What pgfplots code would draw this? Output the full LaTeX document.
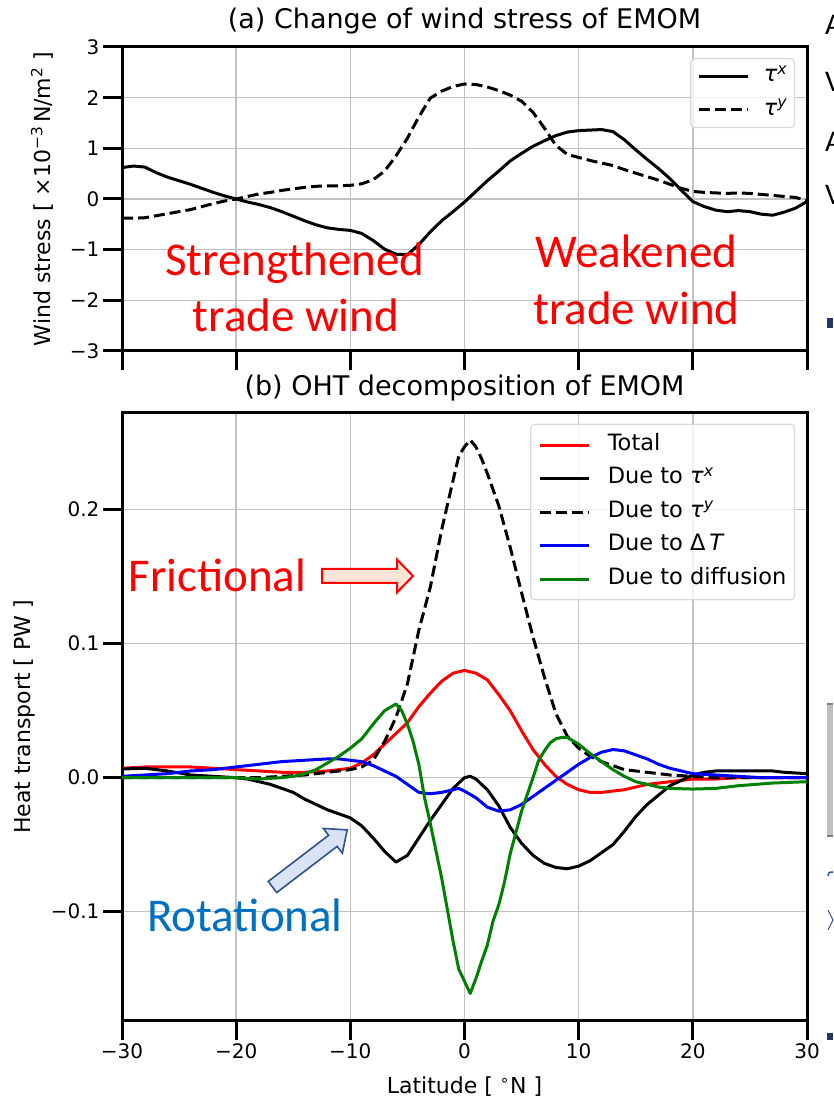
\documentclass[border=0pt]{standalone}
\usepackage{fontspec}
\setmainfont{DejaVu Sans}
\newfontfamily\calibri{Carlito}
\usepackage{pgfplots}
\usepackage{pgfplotstable}
\pgfplotsset{compat=1.18}
\definecolor{mplgreen}{RGB}{0,128,0}
\definecolor{rotblue}{HTML}{0070C0}
\definecolor{arrblue}{HTML}{2F528F}
\definecolor{arrbluefill}{HTML}{DAE3F3}
\definecolor{arrredfill}{HTML}{FBE5D6}
\definecolor{navy}{HTML}{1F3864}

% ---------- panel (a) ----------
\pgfplotstableread{
x y
-30 0.62
-29 0.65
-28 0.63
-27 0.52
-26 0.43
-25 0.36
-24 0.29
-23 0.21
-22 0.13
-21 0.06
-20 0.00
-19 -0.06
-18 -0.11
-17 -0.17
-16 -0.25
-15 -0.34
-14 -0.43
-13 -0.51
-12 -0.57
-11 -0.60
-10 -0.62
-9 -0.68
-8 -0.82
-7 -0.99
-6 -1.09
-5 -1.10
-4 -0.90
-3 -0.65
-2 -0.43
-1 -0.25
0 -0.06
1 0.15
2 0.36
3 0.55
4 0.75
5 0.90
6 1.04
7 1.15
8 1.25
9 1.32
10 1.35
11 1.36
12 1.37
13 1.33
14 1.17
15 0.97
16 0.78
17 0.60
18 0.40
19 0.17
20 -0.05
21 -0.15
22 -0.22
23 -0.25
24 -0.23
25 -0.25
26 -0.30
27 -0.32
28 -0.26
29 -0.18
30 -0.05
}\tauxa

\pgfplotstableread{
x y
-30 -0.38
-29 -0.38
-28 -0.37
-27 -0.33
-26 -0.29
-25 -0.25
-24 -0.21
-23 -0.15
-22 -0.09
-21 -0.04
-20 0.00
-19 0.05
-18 0.10
-17 0.13
-16 0.17
-15 0.20
-14 0.23
-13 0.25
-12 0.26
-11 0.26
-10 0.27
-9 0.30
-8 0.38
-7 0.55
-6 0.85
-5 1.20
-4 1.62
-3 1.99
-2 2.13
-1 2.22
0 2.27
1 2.26
2 2.21
3 2.14
4 2.05
5 1.93
6 1.71
7 1.40
8 1.06
9 0.88
10 0.82
11 0.76
12 0.71
13 0.66
14 0.58
15 0.51
16 0.44
17 0.37
18 0.29
19 0.21
20 0.15
21 0.13
22 0.12
23 0.11
24 0.12
25 0.11
26 0.09
27 0.07
28 0.05
29 0.03
30 -0.03
}\tauya

% ---------- panel (b) ----------
\pgfplotstableread{
x y
-30 0.007
-28 0.008
-26 0.008
-24 0.008
-22 0.007
-20 0.006
-18 0.005
-16 0.004
-14 0.004
-12 0.005
-10 0.007
-9 0.011
-8 0.017
-7 0.025
-6 0.033
-5 0.041
-4 0.053
-3 0.063
-2 0.072
-1 0.078
0 0.080
1 0.078
2 0.073
3 0.062
4 0.050
5 0.035
6 0.021
7 0.010
8 0.001
9 -0.005
10 -0.009
11 -0.011
12 -0.011
13 -0.010
14 -0.009
15 -0.007
16 -0.005
17 -0.004
18 -0.003
19 -0.002
20 -0.001
22 -0.001
24 0.000
26 0.000
28 0.000
30 0.000
}\total

\pgfplotstableread{
x y
-30 0.0065
-28 0.007
-26 0.005
-24 0.002
-22 0.001
-20 0.000
-19 -0.001
-18 -0.003
-17 -0.005
-16 -0.008
-15 -0.011
-14 -0.016
-13 -0.020
-12 -0.024
-11 -0.027
-10 -0.030
-9 -0.036
-8 -0.045
-7 -0.055
-6 -0.063
-5 -0.058
-4 -0.045
-3 -0.032
-2 -0.020
-1 -0.008
0 0.000
0.5 0.001
1 -0.001
2 -0.009
3 -0.021
4 -0.037
5 -0.049
6 -0.058
7 -0.064
8 -0.067
9 -0.068
10 -0.066
11 -0.062
12 -0.056
13 -0.050
14 -0.040
15 -0.029
16 -0.020
17 -0.013
18 -0.006
19 -0.002
20 0.002
21 0.004
22 0.005
24 0.005
26 0.005
27 0.005
28 0.004
30 0.003
}\tauxb

\pgfplotstableread{
x y
-30 0.000
-25 0.000
-20 0.000
-18 0.000
-16 0.001
-14 0.002
-12 0.004
-10 0.006
-9 0.008
-8 0.013
-7 0.027
-6 0.045
-5 0.070
-4 0.110
-3 0.142
-2 0.185
-1 0.222
-0.5 0.240
0 0.247
0.5 0.252
1 0.247
1.5 0.238
2 0.227
3 0.203
4 0.172
5 0.138
6 0.105
7 0.075
8 0.048
9 0.031
10 0.022
11 0.016
12 0.012
13 0.009
14 0.006
15 0.005
16 0.004
17 0.003
18 0.002
20 0.001
22 0.000
30 0.000
}\tauyb

\pgfplotstableread{
x y
-30 0.001
-28 0.002
-26 0.003
-24 0.005
-22 0.006
-20 0.008
-18 0.010
-16 0.012
-14 0.013
-12 0.014
-11 0.014
-10 0.013
-9 0.012
-8 0.009
-7 0.005
-6 0.001
-5 -0.005
-4 -0.011
-3 -0.012
-2 -0.011
-1 -0.009
-0.5 -0.008
0 -0.010
1 -0.015
2 -0.022
3 -0.025
4 -0.024
5 -0.020
6 -0.014
7 -0.008
8 -0.002
9 0.004
10 0.010
11 0.015
12 0.019
13 0.021
14 0.020
15 0.017
16 0.014
17 0.010
18 0.007
19 0.005
20 0.003
22 0.002
24 0.001
26 0.000
30 0.000
}\deltat

\pgfplotstableread{
x y
-30 0.000
-25 0.000
-20 0.000
-18 -0.001
-16 0.000
-15 0.001
-14 0.003
-13 0.006
-12 0.011
-11 0.016
-10 0.022
-9 0.029
-8 0.040
-7 0.050
-6 0.055
-5.5 0.050
-5 0.040
-4.5 0.027
-4 0.010
-3.5 -0.015
-3 -0.034
-2 -0.075
-1 -0.122
-0.5 -0.143
0.5 -0.161
1 -0.150
1.5 -0.137
2 -0.125
2.5 -0.107
3 -0.095
3.5 -0.078
4 -0.057
5 -0.025
6 0.000
6.5 0.013
7 0.020
7.5 0.026
8 0.029
8.5 0.030
9 0.030
10 0.025
11 0.018
12 0.012
13 0.006
14 0.001
15 -0.003
16 -0.005
17 -0.007
18 -0.008
20 -0.0085
22 -0.008
24 -0.006
27 -0.004
30 -0.003
}\diffu

\pgfplotsset{
  common/.style={
    scale only axis, width=685pt,
    xmin=-30, xmax=30, xtick={-30,-20,-10,0,10,20,30},
    grid=major, grid style={line width=1.4pt, color=black!24},
    axis line style={line width=3pt},
    tick align=outside, major tick length=19pt,
    tick style={line width=3pt, black},
    tick pos=left,
    ticklabel style={font=\fontsize{20}{24}\selectfont},
    label style={font=\fontsize{22}{26}\selectfont},
    title style={font=\fontsize{27}{31}\selectfont, at={(0.5,1)}, anchor=base},
    every axis plot/.append style={line width=3pt, line join=round},
    legend cell align=left,
    legend image code/.code={\draw[##1] (0pt,0pt) -- (49pt,0pt);},
    legend style={font=\fontsize{22.5}{26}\selectfont, draw=black!15, line width=1.2pt,
      rounded corners=4pt, fill=white, fill opacity=0.8, text opacity=1,
      at={(1,1)}, anchor=north east, xshift=-12pt, yshift=-11pt,
      inner xsep=8pt, inner ysep=10pt, column sep=17pt, row sep=12pt,
      nodes={inner sep=0pt, text height=16pt, text depth=5.5pt}},
  }
}

\begin{document}
\begin{tikzpicture}
\useasboundingbox (0pt,0pt) rectangle (833pt,1110pt);

% ---- panel (a)
\begin{axis}[common,
  at={(122pt,759pt)}, anchor=south west, height=304pt,
  ymin=-3, ymax=3, ytick={-3,-2,-1,0,1,2,3},
  yticklabels={−3,−2,−1,0,1,2,3}, xticklabels={{},{},{},{},{},{},{}},
  title={(a) Change of wind stress of EMOM}, title style={yshift=12pt},
  ylabel={Wind stress [ ×10\textsuperscript{−3}\,N/m\textsuperscript{2} ]},
  ylabel style={at={(axis description cs:-0.1051,0.5)}, anchor=base},
  legend style={inner ysep=7pt, inner xsep=7pt, column sep=14pt},
]
\addplot[black] table[x=x,y=y] {\tauxa};
\addlegendentry{\textit{τ}\textsuperscript{\textit{x}}}
\addplot[black, dash pattern=on 11pt off 5pt] table[x=x,y=y] {\tauya};
\addlegendentry{\textit{τ}\textsuperscript{\textit{y}}}
\end{axis}

% ---- panel (b)
\begin{axis}[common,
  at={(122pt,89pt)}, anchor=south west, height=608.3pt,
  ymin=-0.1816, ymax=0.2724, ytick={-0.1,0,0.1,0.2},
  yticklabels={−0.1,0.0,0.1,0.2},
  xticklabels={−30,−20,−10,0,10,20,30},
  title={(b) OHT decomposition of EMOM}, title style={yshift=10.7pt},
  xlabel={Latitude [ \textsuperscript{∘}N ]},
  xlabel style={at={(axis description cs:0.5,-0.1184)}, anchor=base},
  ylabel={Heat transport [ PW ]},
  ylabel style={at={(axis description cs:-0.1343,0.5)}, anchor=base},
]
\addplot[red] table[x=x,y=y] {\total};
\addlegendentry{Total}
\addplot[black] table[x=x,y=y] {\tauxb};
\addlegendentry{Due to \textit{τ}\textsuperscript{\textit{x}}}
\addplot[black, dash pattern=on 11pt off 5pt] table[x=x,y=y] {\tauyb};
\addlegendentry{Due to \textit{τ}\textsuperscript{\textit{y}}}
\addplot[blue] table[x=x,y=y] {\deltat};
\addlegendentry{Due to Δ\,\textit{T}}
\addplot[mplgreen] table[x=x,y=y] {\diffu};
\addlegendentry{Due to diffusion}
\end{axis}

% ---- annotations
\begin{scope}[every node/.style={inner sep=0pt, font=\calibri\fontsize{47}{56}\selectfont}]
\node[anchor=base, text=red] at (295pt,834pt) {Strengthened};
\node[anchor=base, text=red] at (296pt,778pt) {trade wind};
\node[anchor=base, text=red] at (636pt,842pt) {Weakened};
\node[anchor=base, text=red] at (636.5pt,785pt) {trade wind};
\node[anchor=base, text=red] at (217.5pt,518pt) {Frictional};
\node[anchor=base, text=rotblue] at (245pt,178pt) {Rotational};
\end{scope}
\begin{scope}[shift={(322pt,534pt)}]
\draw[red, line width=2pt, fill=arrredfill, line join=miter]
  (0pt,7pt) -- (75pt,7pt) -- (75pt,16.5pt) -- (91pt,0pt) -- (75pt,-16.5pt) -- (75pt,-7pt) -- (0pt,-7pt) -- cycle;
\end{scope}
\begin{scope}[shift={(272.5pt,223pt)}, rotate=37.4]
\draw[arrblue, line width=1.6pt, fill=arrbluefill, line join=miter]
  (0pt,7pt) -- (76pt,7pt) -- (76pt,15.6pt) -- (94pt,0pt) -- (76pt,-15.6pt) -- (76pt,-7pt) -- (0pt,-7pt) -- cycle;
\end{scope}

% ---- slide fragments at the right edge
\begin{scope}[every node/.style={inner sep=0pt, anchor=base west, font=\calibri\fontsize{30}{34}\selectfont}]
\node at (825pt,1075pt) {A};
\node at (825pt,1018pt) {V};
\node at (825pt,958pt) {A};
\node at (825pt,905pt) {V};
\end{scope}
\fill[navy] (827pt,782pt) rectangle (833pt,792pt);
\fill[navy] (827pt,70pt) rectangle (833pt,77pt);
\fill[black!25] (827pt,273pt) rectangle (833pt,407pt);
\draw[black!50, line width=2pt] (827pt,406pt) -- (833pt,406pt);
\draw[black!50, line width=2pt] (827pt,274pt) -- (833pt,274pt);
\draw[arrblue, line width=1.5pt] (828pt,234pt) .. controls (829pt,238pt) .. (833pt,238pt);
\draw[arrblue, line width=1pt] (828pt,200pt) -- (833pt,190pt) -- (828pt,180pt);
\end{tikzpicture}
\end{document}
